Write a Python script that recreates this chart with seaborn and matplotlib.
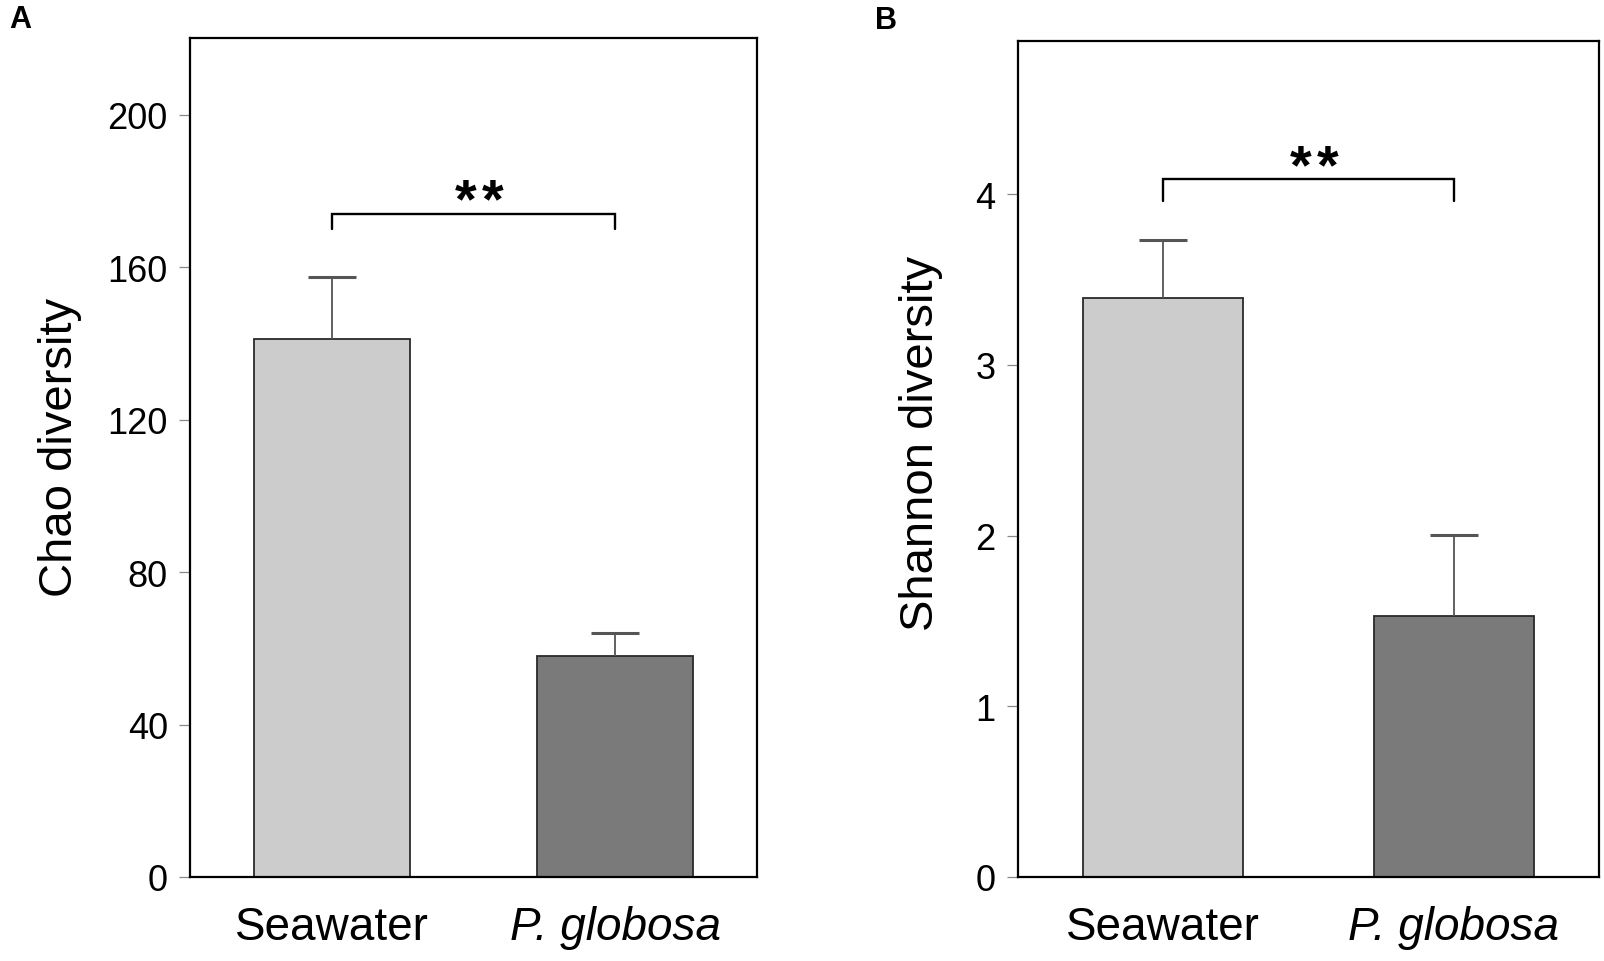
import matplotlib
matplotlib.use("Agg")
import matplotlib.pyplot as plt
import seaborn as sns

# data (mean and SD, upper error only)
groups = ["Seawater", "P. globosa"]
chao_mean = [141, 58]
chao_sd = [16.5, 6]
shannon_mean = [3.39, 1.53]
shannon_sd = [0.345, 0.475]
bar_colors = ["#cccccc", "#7a7a7a"]

chao_ticks = [0, 40, 80, 120, 160, 200]
shannon_ticks = [0, 1, 2, 3, 4]

sns.set_style("ticks")
plt.rcParams['font.family'] = ['Liberation Sans', 'DejaVu Sans']
plt.rcParams['text.color'] = 'black'
plt.rcParams['axes.labelcolor'] = 'black'
plt.rcParams['xtick.labelcolor'] = 'black'
plt.rcParams['ytick.labelcolor'] = 'black'

W, H = 1604, 962
fig = plt.figure(figsize=(W / 100, H / 100), dpi=100)

ax_a = fig.add_axes([190 / W, 1 - 878 / H, (757 - 190) / W, (878 - 39.3) / H])
ax_b = fig.add_axes([1017.7 / W, 1 - 878 / H, (1599 - 1017.7) / W, (878 - 41.7) / H])


def draw_panel(ax, means, sds, ylim, yticks, ylabel, label_xy, br_y, leg_y, star_y):
    sns.barplot(x=groups, y=means, hue=groups, palette=bar_colors, width=0.55,
                edgecolor="#2a2a2a", linewidth=1.3, errorbar=None, legend=False, ax=ax)
    eb = ax.errorbar(x=[0, 1], y=means, yerr=[[0, 0], sds], fmt='none', ecolor='#555555',
                     elinewidth=1.3, capsize=17, capthick=2.2, zorder=3)
    eb[1][0].set_visible(False)  # no lower cap

    ax.set_xlim(-0.5, 1.5)
    ax.set_ylim(*ylim)
    ax.set_yticks(yticks)
    ax.set_xlabel("")
    ax.set_ylabel(ylabel, fontsize=34)
    ax.yaxis.set_label_coords(*label_xy)

    ax.tick_params(axis='y', length=8, width=0.9, color='#888888', pad=8, labelsize=26)
    ax.tick_params(axis='x', length=0, pad=20, labelsize=33)
    ax.set_xticks([0, 1])
    ax.set_xticklabels(groups)
    ax.get_xticklabels()[1].set_style('italic')

    for sp in ax.spines.values():
        sp.set_visible(True)
        sp.set_color('black')
        sp.set_linewidth(1.6)

    # significance bracket
    ax.plot([0, 0, 1, 1], [leg_y, br_y, br_y, leg_y], color='black', lw=1.7,
            solid_joinstyle='miter', zorder=4)
    for dx in (-9.9, 9.9):
        ax.annotate("*", xy=(0.52, star_y), xytext=(dx, 0), textcoords='offset points',
                    ha='center', va='center', fontsize=40, fontweight='bold')


draw_panel(ax_a, chao_mean, chao_sd, (0, 220), chao_ticks, "Chao diversity",
           (-0.19, 0.513), 174, 170, 177)
draw_panel(ax_b, shannon_mean, shannon_sd, (0, 4.9), shannon_ticks, "Shannon diversity",
           (-0.128, 0.52), 4.09, 3.96, 4.15)

fig.text(9 / W, 1 - 4.5 / H, "A", fontsize=22, fontweight='bold', va='top', ha='left')
fig.text(875 / W, 1 - 6 / H, "B", fontsize=22, fontweight='bold', va='top', ha='left')

fig.savefig("out.png", dpi=100)
